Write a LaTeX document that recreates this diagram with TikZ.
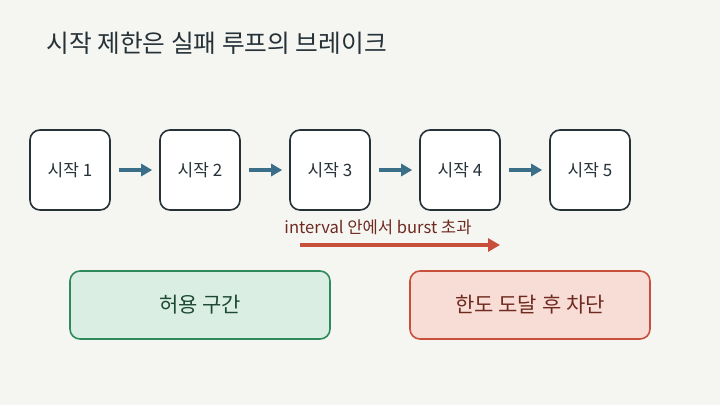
\documentclass[tikz,border=0pt]{standalone}
\usepackage{fontspec}
\setmainfont{Noto Sans CJK KR}
\usetikzlibrary{arrows.meta}
\definecolor{bg}{HTML}{F5F6F2}
\definecolor{ink}{HTML}{263238}
\definecolor{flow}{HTML}{3B6E88}
\definecolor{redline}{HTML}{C8503A}
\definecolor{redfill}{HTML}{F8DDD6}
\definecolor{redtext}{HTML}{6E2A20}
\definecolor{greenline}{HTML}{2F8A5B}
\definecolor{greenfill}{HTML}{DBEEE4}
\definecolor{greentext}{HTML}{1E4A34}
\tikzset{
  stepbox/.style={draw=ink, line width=1.6pt, fill=white, rounded corners=10pt,
    minimum width=80pt, minimum height=80pt, inner sep=0pt, text=ink,
    font=\fontsize{17pt}{20pt}\selectfont},
  flowarrow/.style={draw=flow, line width=4pt, -{Triangle[length=11pt,width=12pt]}},
  zonebox/.style={rounded corners=10pt, line width=1.6pt, minimum width=260pt,
    minimum height=68pt, inner sep=0pt, font=\fontsize{21pt}{24pt}\selectfont},
}
\begin{document}
\begin{tikzpicture}[x=1pt,y=-1pt]
\fill[bg] (0,0) rectangle (720,405);
\useasboundingbox (0,0) rectangle (720,405);
\node[anchor=west, text=ink, font=\fontsize{24.7pt}{28pt}\selectfont] (title) at (43,43) {시작 제한은 실패 루프의 브레이크};
\foreach \i in {1,...,5} {
  \node[stepbox] (s\i) at ({70+130*(\i-1)},170) {시작 \i};
}
\foreach \a/\b in {1/2,2/3,3/4,4/5} {
  \draw[flowarrow] ([xshift=8pt]s\a.east) -- ([xshift=-7pt]s\b.west);
}
\coordinate (rs) at (300,245);
\coordinate (re) at (500,245);
\draw[draw=redline, line width=3.5pt, -{Triangle[length=12pt,width=13pt]}] (rs) -- (re);
\node[text=redtext, font=\fontsize{16.6pt}{19pt}\selectfont] (lbl) at (378,227) {interval 안에서 burst 초과};
\node[zonebox, draw=greenline, fill=greenfill, text=greentext] (ok) at (200,305) {허용 구간};
\node[zonebox, draw=redline, fill=redfill, text=redtext, minimum width=240pt] (stop) at (530,305) {한도 도달 후 차단};
\end{tikzpicture}
\end{document}
